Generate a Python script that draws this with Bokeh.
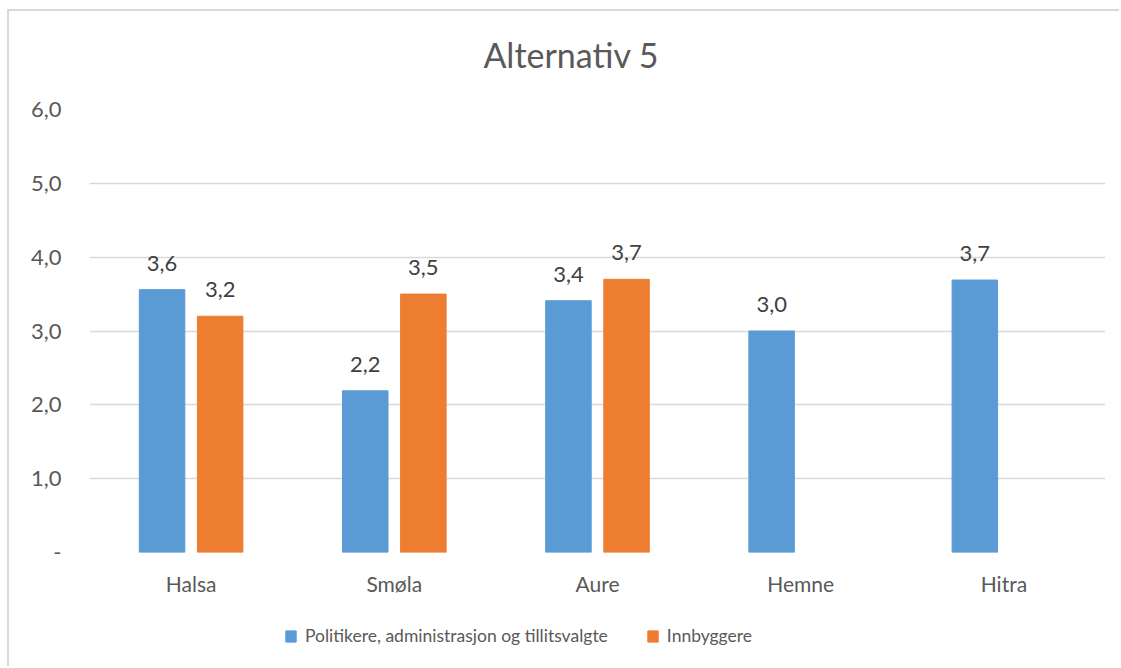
from bokeh.plotting import figure
from bokeh.layouts import column
from bokeh.models import ColumnDataSource, FactorRange, LabelSet, Legend, LegendItem, Div
from bokeh.core.properties import value
from bokeh.transform import dodge
from bokeh.embed import file_html
from bokeh.resources import INLINE

categories = ["Halsa", "Smøla", "Aure", "Hemne", "Hitra"]
politikere = [3.56, 2.19, 3.41, 3.00, 3.69]
innbyggere_cats = ["Halsa", "Smøla", "Aure"]
innbyggere = [3.20, 3.50, 3.70]
y_ticks = [0, 1, 2, 3, 4, 5, 6]
y_tick_labels = ["-", "1,0", "2,0", "3,0", "4,0", "5,0", "6,0"]
series_names = ["Politikere, administrasjon og tillitsvalgte", "Innbyggere"]
title_text = "Alternativ 5"

FONT = "Lato"
BLUE = "#5B9BD5"
ORANGE = "#ED7D31"
GRID = "#D9D9D9"
TXT = "#595959"
COLORS = [BLUE, ORANGE]

def fmt(v):
    return f"{v:.1f}".replace(".", ",")

src_a = ColumnDataSource(dict(cat=categories, val=politikere, lab=[fmt(v) for v in politikere]))
src_b = ColumnDataSource(dict(cat=innbyggere_cats, val=innbyggere, lab=[fmt(v) for v in innbyggere]))
sources = [src_a, src_b]
offsets = [-0.143, 0.143]

W = 1112

title = Div(text=title_text, width=W, height=80, margin=0,
            styles={"font-family": FONT, "font-size": "34px", "color": TXT,
                    "text-align": "center", "line-height": "88px", "white-space": "nowrap",
                    "padding-left": "12px", "box-sizing": "border-box"})

p = figure(width=W, height=509, x_range=FactorRange(*categories), y_range=(0, 6),
           output_backend="svg", toolbar_location=None,
           min_border_left=80, min_border_right=16, min_border_top=18, min_border_bottom=48)

for src, off, col in zip(sources, offsets, COLORS):
    p.vbar(x=dodge("cat", off, range=p.x_range), top="val", width=0.224, source=src,
           fill_color=col, line_color=col)
    ls = LabelSet(x=dodge("cat", off, range=p.x_range), y="val", text="lab", source=src,
                  y_offset=19, text_align="center", text_baseline="alphabetic",
                  text_font=value(FONT), text_font_size=value("22px"), text_color="#404040")
    p.add_layout(ls)

p.outline_line_color = None
p.xgrid.grid_line_color = None
p.ygrid.grid_line_color = GRID
p.ygrid.grid_line_width = 1.5
p.ygrid.ticker = y_ticks

p.yaxis.ticker = y_ticks
p.yaxis.major_label_overrides = {t: l for t, l in zip(y_ticks, y_tick_labels)}
for ax in (p.xaxis[0], p.yaxis[0]):
    ax.axis_line_color = None
    ax.major_tick_line_color = None
    ax.minor_tick_line_color = None
    ax.major_tick_out = 0
    ax.major_tick_in = 0
    ax.major_label_text_font = FONT
    ax.major_label_text_color = TXT
p.yaxis.major_label_text_font_size = "22px"
p.xaxis.major_label_text_font_size = "21px"
p.yaxis.major_label_standoff = 28
p.xaxis.major_label_standoff = 18

# legend strip below the chart (its series bars fall outside its y range)
lf = figure(width=W, height=68, x_range=FactorRange(*categories), y_range=(100, 101),
            output_backend="svg", toolbar_location=None,
            x_axis_type=None, y_axis_type=None,
            min_border_left=0, min_border_right=0, min_border_top=0, min_border_bottom=0)
lf.outline_line_color = None
lf.xgrid.grid_line_color = None
lf.ygrid.grid_line_color = None
items = []
for name, src, col in zip(series_names, sources, COLORS):
    r = lf.vbar(x="cat", top="val", width=0.224, source=src, fill_color=col, line_color=col)
    items.append(LegendItem(label=name, renderers=[r]))
legend = Legend(items=items, orientation="horizontal", location=(195, 22),
                label_text_font=FONT, label_text_font_size="17.5px", label_text_color=TXT,
                glyph_width=13, glyph_height=14, spacing=38, label_standoff=8,
                border_line_color=None, background_fill_alpha=0, margin=0, padding=0)
lf.add_layout(legend, "center")

layout = column(title, p, lf, spacing=0)
layout.margin = (11, 0, 0, 9)
layout.styles = {"box-shadow": "-2px -2px 0 0 #D9D9D9"}

open("out.html", "w").write(file_html(layout, INLINE))
